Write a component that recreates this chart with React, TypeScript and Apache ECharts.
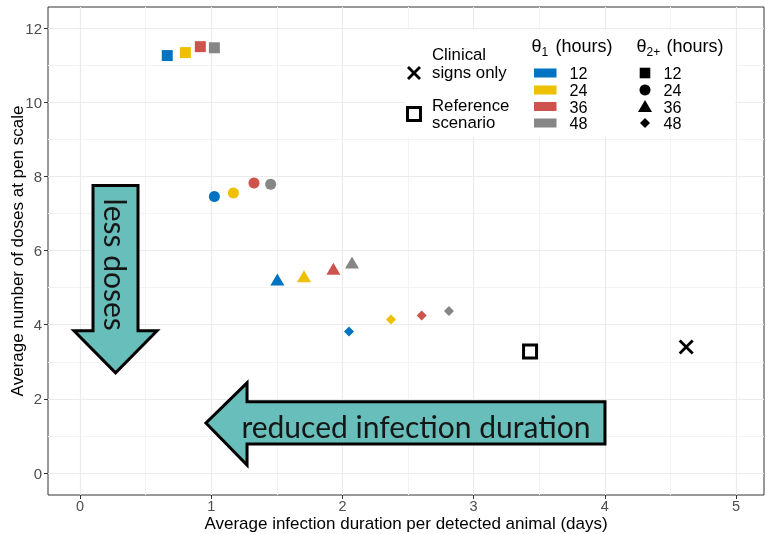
import React, { useEffect, useRef } from 'react';
import * as echarts from 'echarts';

// theta1 (colour) levels
const theta1Labels = ['12', '24', '36', '48'];
const theta1Colors = ['#0073C2', '#EFC000', '#CD534C', '#868686'];
// theta2+ (shape) levels
const theta2Labels = ['12', '24', '36', '48'];

// average infection duration (days) / average number of doses, by theta1 (12,24,36,48)
const durationT2_12 = [0.665, 0.803, 0.917, 1.024];
const dosesT2_12 = [11.26, 11.34, 11.5, 11.47];
const durationT2_24 = [1.024, 1.169, 1.326, 1.453];
const dosesT2_24 = [7.46, 7.55, 7.82, 7.79];
const durationT2_36 = [1.504, 1.707, 1.931, 2.073];
const dosesT2_36 = [5.22, 5.31, 5.51, 5.68];
const durationT2_48 = [2.05, 2.37, 2.604, 2.812];
const dosesT2_48 = [3.82, 4.14, 4.25, 4.37];

const referenceScenario = [3.43, 3.28];
const clinicalSignsOnly = [4.62, 3.4];

const xTicks = [0, 1, 2, 3, 4, 5];
const xMinor = [0.5, 1.5, 2.5, 3.5, 4.5];
const yTicks = [0, 2, 4, 6, 8, 10, 12];
const yMinor = [1, 3, 5, 7, 9, 11];

// annotation arrows in data coordinates
const lessDosesArrow = [
  [0.099, 7.757], [0.442, 7.757], [0.442, 3.838], [0.587, 3.838],
  [0.271, 2.703], [-0.046, 3.838], [0.099, 3.838],
];
const reducedDurationArrow = [
  [4.001, 1.919], [1.273, 1.919], [1.273, 2.432], [0.96, 1.351],
  [1.273, 0.216], [1.273, 0.784], [4.001, 0.784],
];
const arrowShapes = [lessDosesArrow, reducedDurationArrow];
const arrowTexts = ['less doses', 'reduced infection duration'];
const arrowTextPos = [[0.271, 5.62], [2.56, 1.27]];
const arrowTextRot = [-Math.PI / 2, 0];

const FONT = '"Liberation Sans", Arial, sans-serif';

export default function App() {
  const ref = useRef<HTMLDivElement>(null);
  useEffect(() => {
    if (!ref.current) return;
    const chart = echarts.init(ref.current, undefined, { renderer: 'svg' });

    const groups = [
      { d: durationT2_12, n: dosesT2_12, symbol: 'rect', size: 11 },
      { d: durationT2_24, n: dosesT2_24, symbol: 'circle', size: 11 },
      { d: durationT2_36, n: dosesT2_36, symbol: 'triangle', size: [14, 12] },
      { d: durationT2_48, n: dosesT2_48, symbol: 'diamond', size: 10 },
    ];

    const gridMarkData: any[] = [];
    xMinor.forEach((v) => gridMarkData.push({ xAxis: v, lineStyle: { color: '#F3F3F3', width: 1 } }));
    yMinor.forEach((v) => gridMarkData.push({ yAxis: v, lineStyle: { color: '#F3F3F3', width: 1 } }));
    xTicks.forEach((v) => gridMarkData.push({ xAxis: v, lineStyle: { color: '#EBEBEB', width: 1.2 } }));
    yTicks.forEach((v) => gridMarkData.push({ yAxis: v, lineStyle: { color: '#EBEBEB', width: 1.2 } }));

    const series: any[] = [
      {
        type: 'scatter',
        name: 'grid',
        data: [],
        z: 0,
        silent: true,
        markLine: {
          z: 0,
          silent: true,
          symbol: ['none', 'none'],
          label: { show: false },
          lineStyle: { type: 'solid' },
          animation: false,
          data: gridMarkData,
        },
      },
      {
        type: 'custom',
        name: 'arrows',
        z: 3,
        silent: true,
        data: [[0, 0], [1, 0]],
        renderItem: (params: any, api: any) => {
          const i = params.dataIndex;
          const pts = arrowShapes[i].map((p) => api.coord(p));
          const c = api.coord(arrowTextPos[i]);
          return {
            type: 'group',
            children: [
              {
                type: 'polygon',
                shape: { points: pts },
                style: { fill: '#67BEBA', stroke: '#000', lineWidth: 3, lineJoin: 'miter' },
              },
              {
                type: 'text',
                x: c[0],
                y: c[1],
                rotation: arrowTextRot[i],
                style: {
                  text: arrowTexts[i],
                  fill: '#161616',
                  fontSize: 30,
                  fontFamily: 'Lato',
                  align: 'center',
                  verticalAlign: 'middle',
                  textAlign: 'center',
                  textVerticalAlign: 'middle',
                },
              },
            ],
          };
        },
      },
    ];

    groups.forEach((g, gi) => {
      series.push({
        type: 'scatter',
        name: 'theta2_' + theta2Labels[gi],
        symbol: g.symbol,
        symbolSize: g.size,
        z: 5,
        data: g.d.map((x, i) => ({
          value: [x, g.n[i]],
          itemStyle: { color: theta1Colors[i], opacity: 1 },
        })),
      });
    });

    series.push({
      type: 'scatter',
      name: 'Reference scenario',
      symbol: 'rect',
      symbolSize: 13,
      z: 5,
      itemStyle: { color: 'rgba(0,0,0,0)', borderColor: '#000', borderWidth: 3, opacity: 1 },
      data: [referenceScenario],
    });
    series.push({
      type: 'scatter',
      name: 'Clinical signs only',
      symbol: 'path://M0 0 L10 10 M10 0 L0 10',
      symbolSize: 13,
      z: 5,
      itemStyle: { color: 'rgba(0,0,0,0)', borderColor: '#000', borderWidth: 2.8, opacity: 1 },
      data: [clinicalSignsOnly],
    });

    // Legend (graphic)
    const T = (text: string, x: number, y: number, size = 16.2, extra: any = {}) => ({
      type: 'text',
      x,
      y,
      z: 101,
      style: {
        text,
        fill: '#000',
        fontSize: size,
        fontFamily: FONT,
        lineHeight: 14,
        textAlign: 'left',
        textVerticalAlign: 'middle',
        align: 'left',
        verticalAlign: 'middle',
        ...extra,
      },
    });
    const legendRowsY = [73, 90, 106.5, 123];
    const graphic: any[] = [
      { type: 'rect', z: 100, shape: { x: 405, y: 30, width: 330, height: 107 }, style: { fill: '#fff' } },
      { type: 'line', z: 101, shape: { x1: 408, y1: 67, x2: 420, y2: 79 }, style: { stroke: '#000', lineWidth: 2.8 } },
      { type: 'line', z: 101, shape: { x1: 420, y1: 67, x2: 408, y2: 79 }, style: { stroke: '#000', lineWidth: 2.8 } },
      { type: 'rect', z: 101, shape: { x: 407.5, y: 107.5, width: 13, height: 13 }, style: { fill: 'none', stroke: '#000', lineWidth: 3 } },
      T('Clinical', 432, 54, 16.8),
      T('signs only', 432, 72, 16.8),
      T('Reference', 432, 105, 16.8),
      T('scenario', 432, 122.5, 16.8),
      T('θ', 531.5, 46, 18),
      T('1', 541.5, 52, 12, { lineHeight: 10 }),
      T('(hours)', 555.5, 46, 18),
      T('θ', 636.5, 46, 18),
      T('2+', 646.5, 52, 12, { lineHeight: 10 }),
      T('(hours)', 666.5, 46, 18),
    ];
    theta1Labels.forEach((l, i) => {
      graphic.push({
        type: 'rect', z: 101,
        shape: { x: 534, y: legendRowsY[i] - 4.5, width: 22.5, height: 9 },
        style: { fill: theta1Colors[i] },
      });
      graphic.push(T(l, 569.5, legendRowsY[i]));
    });
    const sx = 645;
    graphic.push({ type: 'rect', z: 101, shape: { x: sx - 5.3, y: legendRowsY[0] - 5.3, width: 10.6, height: 10.6 }, style: { fill: '#000' } });
    graphic.push({ type: 'circle', z: 101, shape: { cx: sx, cy: legendRowsY[1], r: 5.5 }, style: { fill: '#000' } });
    graphic.push({
      type: 'polygon', z: 101,
      shape: { points: [[sx, legendRowsY[2] - 6.5], [sx + 7, legendRowsY[2] + 5.5], [sx - 7, legendRowsY[2] + 5.5]] },
      style: { fill: '#000' },
    });
    graphic.push({
      type: 'polygon', z: 101,
      shape: { points: [[sx, legendRowsY[3] - 5], [sx + 5, legendRowsY[3]], [sx, legendRowsY[3] + 5], [sx - 5, legendRowsY[3]]] },
      style: { fill: '#000' },
    });
    theta2Labels.forEach((l, i) => graphic.push(T(l, 663.5, legendRowsY[i])));

    chart.setOption({
      animation: false,
      grid: {
        left: 48, right: 1, top: 7, bottom: 39,
        outerBoundsMode: 'none',
        containLabel: false,
        show: true, borderColor: '#333', borderWidth: 1, backgroundColor: '#fff',
      },
      xAxis: {
        type: 'value',
        position: 'bottom',
        min: -0.244,
        max: 5.213,
        name: 'Average infection duration per detected animal (days)',
        nameLocation: 'middle',
        nameGap: 20,
        nameMoveOverlap: false,
        nameTextStyle: { color: '#000', fontSize: 17, fontFamily: FONT, lineHeight: 16 },
        axisLine: { show: false, onZero: false },
        axisTick: { show: true, inside: false, customValues: xTicks, length: 4, lineStyle: { color: '#333' } },
        axisLabel: { customValues: xTicks, color: '#4D4D4D', fontSize: 14.5, fontFamily: FONT, margin: 4, lineHeight: 14 },
        splitLine: { show: false },
      },
      yAxis: {
        type: 'value',
        position: 'left',
        min: -0.593,
        max: 12.57,
        name: 'Average number of doses at pen scale',
        nameLocation: 'middle',
        nameGap: 22,
        nameMoveOverlap: false,
        nameTextStyle: { color: '#000', fontSize: 17, fontFamily: FONT },
        axisLine: { show: false, onZero: false },
        axisTick: { show: true, inside: false, customValues: yTicks, length: 4, lineStyle: { color: '#333' } },
        axisLabel: { customValues: yTicks, color: '#4D4D4D', fontSize: 15, fontFamily: FONT, margin: 6 },
        splitLine: { show: false },
      },
      series,
      graphic,
    });
    return () => chart.dispose();
  }, []);
  return <div ref={ref} style={{ position: 'fixed', left: 0, top: 0, width: 765, height: 534 }} />;
}
